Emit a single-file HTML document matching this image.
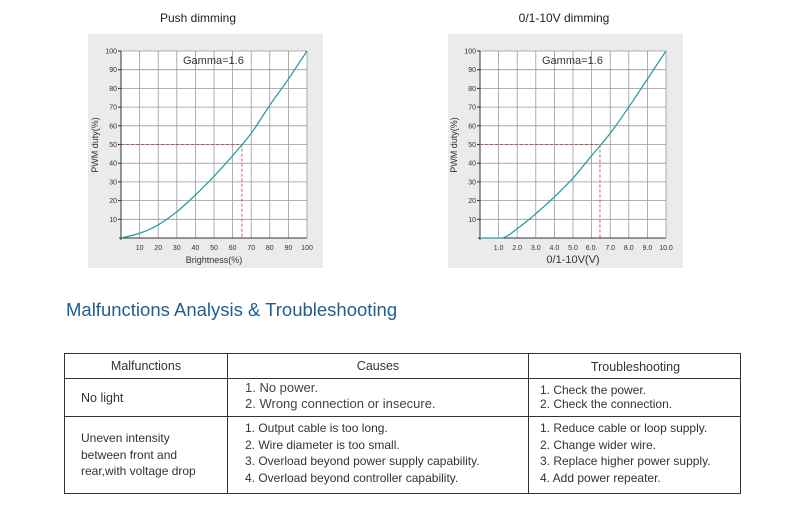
<!DOCTYPE html>
<html><head><meta charset="utf-8">
<style>
body{margin:0;background:#fff;width:804px;height:521px;overflow:hidden;font-family:"Liberation Sans",sans-serif;}
#wrap{position:relative;width:804px;height:521px;}
.tbl{position:absolute;left:64px;top:353px;width:677px;height:141px;border:1.3px solid #333;box-sizing:border-box;color:#333;font-size:12.5px;}
.cell{position:absolute;box-sizing:border-box;}
.vl{position:absolute;top:0;bottom:0;width:1.3px;background:#333;}
.hl{position:absolute;left:0;right:0;height:1.3px;background:#333;}
</style></head><body>
<div id="wrap">
<svg id="charts" width="804" height="290" style="position:absolute;left:0;top:0"></svg>
<div style="position:absolute;left:66px;top:299px;font-size:18.5px;color:#1f5f8f;">Malfunctions Analysis &amp; Troubleshooting</div>
<div class="tbl">
 <div class="vl" style="left:162px"></div><div class="vl" style="left:463px"></div>
 <div class="hl" style="top:24px"></div><div class="hl" style="top:62px"></div>
 <div class="cell" style="left:0;width:162px;top:5px;text-align:center">Malfunctions</div>
 <div class="cell" style="left:163px;width:300px;top:5px;text-align:center">Causes</div>
 <div class="cell" style="left:464px;width:213px;top:6px;text-align:center">Troubleshooting</div>
 <div class="cell" style="left:16px;top:37px">No light</div>
 <div class="cell" style="left:180px;top:26px;font-size:13px;line-height:15.5px;color:#444">1. No power.<br>2. Wrong connection or insecure.</div>
 <div class="cell" style="left:475px;top:29px;font-size:12px;line-height:14px">1. Check the power.<br>2. Check the connection.</div>
 <div class="cell" style="left:16px;top:76px;font-size:12px;line-height:16.5px">Uneven intensity<br>between front and<br>rear,with voltage drop</div>
 <div class="cell" style="left:180px;top:66px;font-size:12px;line-height:16.5px">1. Output cable is too long.<br>2. Wire diameter is too small.<br>3. Overload beyond power supply capability.<br>4. Overload beyond controller capability.</div>
 <div class="cell" style="left:475px;top:66px;font-size:12px;line-height:16.5px">1. Reduce cable or loop supply.<br>2. Change wider wire.<br>3. Replace higher power supply.<br>4. Add power repeater.</div>
</div>
</div>
<script>
const pushX=[0,10,20,30,40,50,60,70,80,90,100];
const pushY=[0,2.5,7,14,23,33,44,56,71,85,100];
const pushTicks=["10","20","30","40","50","60","70","80","90","100"];
const voltX=[0,1.2,2,3,4,5,6,7,8,9,10];
const voltY=[0,0,5,13,22,32,44,56,70,85,100];
const voltTicks=["1.0","2.0","3.0","4.0","5.0","6.0.","7.0","8.0","9.0","10.0"];
const yTicks=["10","20","30","40","50","60","70","80","90","100"];
const ns="http://www.w3.org/2000/svg";
const svg=document.getElementById('charts');
function mk(t,a,p){const e=document.createElementNS(ns,t);for(const k in a)e.setAttribute(k,a[k]);(p||svg).appendChild(e);return e;}
function smooth(pts){
 let d=`M${pts[0][0].toFixed(1)} ${pts[0][1].toFixed(1)}`;
 for(let i=0;i<pts.length-1;i++){
  const p0=pts[Math.max(0,i-1)],p1=pts[i],p2=pts[i+1],p3=pts[Math.min(pts.length-1,i+2)];
  let c1=[p1[0]+(p2[0]-p0[0])/6,p1[1]+(p2[1]-p0[1])/6];
  let c2=[p2[0]-(p3[0]-p1[0])/6,p2[1]-(p3[1]-p1[1])/6];
  if(p1[1]===p2[1]){c1=[c1[0],p1[1]];c2=[c2[0],p2[1]];}
  d+=`C${c1[0].toFixed(1)} ${c1[1].toFixed(1)} ${c2[0].toFixed(1)} ${c2[1].toFixed(1)} ${p2[0].toFixed(1)} ${p2[1].toFixed(1)}`;
 }
 return d;
}
function chart(o){
 const g=mk('g',{});
 
 
 const bg=mk('rect',{x:o.px,y:34,width:o.pw,height:234,fill:'#ebebeb'},g);
 
 
 const pl=mk('rect',{x:o.x0,y:51,width:o.x1-o.x0,height:187,fill:'#fff'},g);
 
 
 const sx=v=>o.x0+(v/o.max)*(o.x1-o.x0), sy=v=>238-v/100*187;
 for(let i=1;i<=10;i++){
  const vx=o.max*i/10;
  mk('line',{x1:sx(vx),x2:sx(vx),y1:51,y2:238,stroke:'#999','stroke-width':0.8},g);
  mk('line',{x1:o.x0,x2:o.x1,y1:sy(i*10),y2:sy(i*10),stroke:'#999','stroke-width':0.8},g);
  const tx=mk('text',{x:sx(vx),y:250,'font-size':7,'text-anchor':'middle',fill:'#333'},g);tx.textContent=o.ticks[i-1];
  
  
  const ty=mk('text',{x:o.x0-4,y:sy(i*10)+2.5,'font-size':7,'text-anchor':'end',fill:'#333'},g);ty.textContent=yTicks[i-1];
  
  
  mk('line',{x1:o.x0-3,x2:o.x0,y1:sy(i*10),y2:sy(i*10),stroke:'#333'},g);
 }
 mk('line',{x1:o.x0,x2:o.x0,y1:51,y2:240,stroke:'#333','stroke-width':1},g);
 mk('line',{x1:o.x0-2,x2:o.x1,y1:238,y2:238,stroke:'#333','stroke-width':1},g);
 const dh=mk('path',{d:`M${o.x0} ${sy(50)}H${sx(o.mark)}V238`,stroke:'#c0504d','stroke-width':0.9,'stroke-dasharray':'3,2',fill:'none'},g);
 
 
 const pts=o.xs.map((v,i)=>[sx(v),sy(o.ys[i])]);
 const c=mk('path',{d:smooth(pts),stroke:'#2aa0a8','stroke-width':1.3,fill:'none'},g);
 
 
 const gm=mk('text',{x:o.x0+62,y:64,'font-size':11,fill:'#333'},g);gm.textContent='Gamma=1.6';
 
 
 const xt=mk('text',{x:(o.x0+o.x1)/2,y:263,'font-size':o.xfs,'text-anchor':'middle',fill:'#333'},g);xt.textContent=o.xtitle;
 
 
 const yt=mk('text',{x:0,y:0,'font-size':9,'text-anchor':'middle',fill:'#333',transform:`translate(${o.x0-23},145) rotate(-90)`},g);yt.textContent='PWM duty(%)';
 
 
 const tt=mk('text',{x:o.tx,y:22,'font-size':12,'text-anchor':'middle',fill:'#222'},g);tt.textContent=o.title;
 
 
}
chart({name:'push-dimming-chart',px:88,pw:235,x0:121,x1:307,max:100,xs:pushX,ys:pushY,ticks:pushTicks,mark:65,xtitle:'Brightness(%)',xfs:9,title:'Push dimming',tx:198});
chart({name:'voltage-dimming-chart',px:448,pw:235,x0:480,x1:666,max:10,xs:voltX,ys:voltY,ticks:voltTicks,mark:6.45,xtitle:'0/1-10V(V)',xfs:11,title:'0/1-10V dimming',tx:564});
</script>
</body></html>
